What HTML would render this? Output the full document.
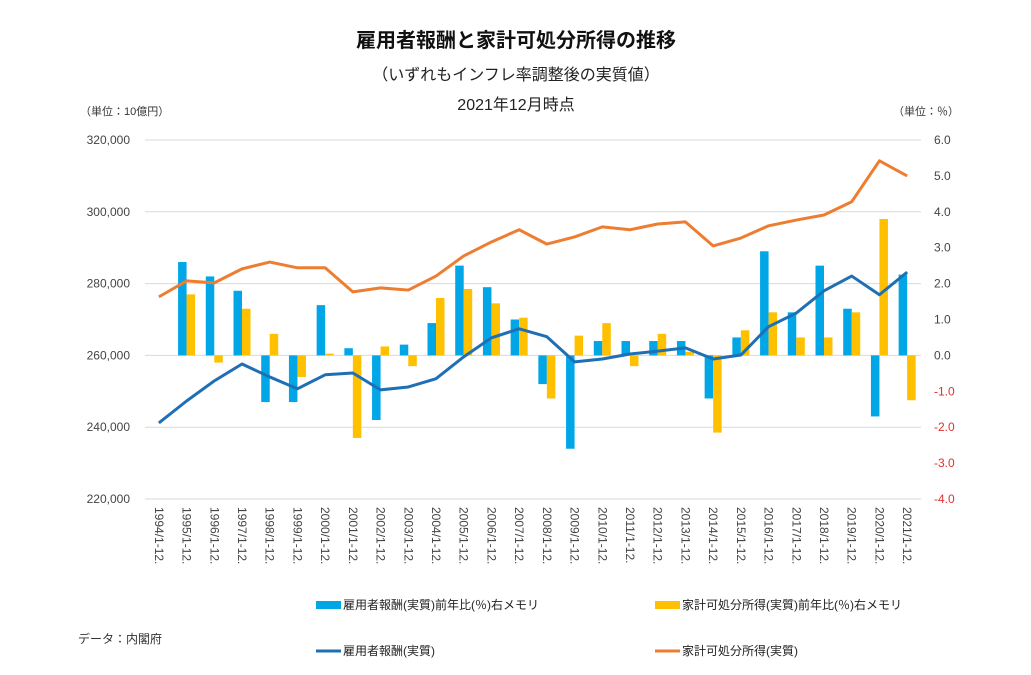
<!DOCTYPE html>
<html><head><meta charset="utf-8">
<style>
body{margin:0;background:#fff;}
svg{display:block;font-family:"Liberation Sans","Noto Sans CJK JP",sans-serif;}
</style></head>
<body>
<svg id="chart" width="1031" height="675" viewBox="0 0 1031 675">
<text x="516" y="47" text-anchor="middle" font-size="20" font-weight="bold" fill="#111">雇用者報酬と家計可処分所得の推移</text>
<text x="516" y="80" text-anchor="middle" font-size="16" fill="#222">（いずれもインフレ率調整後の実質値）</text>
<text x="516" y="110" text-anchor="middle" font-size="16" fill="#222">2021年12月時点</text>
<text x="80" y="115" font-size="11" fill="#333">（単位：10億円）</text>
<text x="893" y="115" font-size="11" fill="#333">（単位：％）</text>
<g id="grid"></g><g id="bars"></g><g id="lines"></g><g id="axes"></g>
<text x="78" y="643" font-size="12" fill="#333">データ：内閣府</text>
<g>
<rect x="316" y="601" width="25" height="8" fill="#00A6E6"/>
<text x="343" y="609" font-size="12" fill="#222">雇用者報酬(実質)前年比(％)右メモリ</text>
<rect x="655" y="601" width="25" height="8" fill="#FFC000"/>
<text x="682" y="609" font-size="12" fill="#222">家計可処分所得(実質)前年比(％)右メモリ</text>
<line x1="316" y1="651" x2="341" y2="651" stroke="#1F6FB5" stroke-width="3"/>
<text x="343" y="655" font-size="12" fill="#222">雇用者報酬(実質)</text>
<line x1="655" y1="651" x2="680" y2="651" stroke="#ED7D31" stroke-width="3"/>
<text x="682" y="655" font-size="12" fill="#222">家計可処分所得(実質)</text>
</g>
</svg>
<script>
const years=[1994,1995,1996,1997,1998,1999,2000,2001,2002,2003,2004,2005,2006,2007,2008,2009,2010,2011,2012,2013,2014,2015,2016,2017,2018,2019,2020,2021];
const employeeYoY=[null,2.6,2.2,1.8,-1.3,-1.3,1.4,0.2,-1.8,0.3,0.9,2.5,1.9,1.0,-0.8,-2.6,0.4,0.4,0.4,0.4,-1.2,0.5,2.9,1.2,2.5,1.3,-1.7,2.25];
const incomeYoY=[null,1.7,-0.2,1.3,0.6,-0.6,0.05,-2.3,0.25,-0.3,1.6,1.85,1.45,1.05,-1.2,0.55,0.9,-0.3,0.6,0.1,-2.15,0.7,1.2,0.5,0.5,1.2,3.8,-1.25];
const employee=[241200,247300,252900,257600,254000,250700,254600,255100,250400,251200,253500,259600,264900,267400,265200,258200,259000,260400,261200,262100,259000,260100,268000,271800,278000,282100,276900,283200];
const income=[276300,280750,280200,284100,286000,284400,284400,277700,278800,278200,282100,287700,291600,295000,291000,293000,295800,295000,296600,297200,290500,292700,296100,297700,299100,302800,314200,310000];
const leftTicks=[220000,240000,260000,280000,300000,320000];
const rightTicks=[-4,-3,-2,-1,0,1,2,3,4,5,6];
const NS="http://www.w3.org/2000/svg";
const L=145,R=921,T=140,B=499;
const yL=v=>B-(v-220000)/100000*(B-T);
const yR=v=>B-(v+4)/10*(B-T);
const step=(R-L)/years.length;
const xC=i=>L+step*(i+0.5);
function mk(tag,attrs,parent){const e=document.createElementNS(NS,tag);for(const k in attrs)e.setAttribute(k,attrs[k]);parent.appendChild(e);return e;}
const grid=document.getElementById('grid'),bars=document.getElementById('bars'),lines=document.getElementById('lines'),axes=document.getElementById('axes');
leftTicks.forEach(v=>{
  const g=mk('line',{x1:L,x2:R,y1:yL(v),y2:yL(v),stroke:'#d9d9d9','stroke-width':1},grid);
  
  
  const t=mk('text',{x:130,y:yL(v)+4,'text-anchor':'end','font-size':12,fill:'#444'},axes);
  t.textContent=v.toLocaleString('en-US');
  
  
});
rightTicks.forEach(v=>{
  const t=mk('text',{x:934,y:yR(v)+4,'font-size':12,fill:v<0?'#E03030':'#444'},axes);
  t.textContent=v.toFixed(1);
  
  
});
const bw=8.5,z=yR(0);
years.forEach((yr,i)=>{
  const lb=mk('text',{transform:`translate(${xC(i)-4},507) rotate(90)`,'font-size':12,fill:'#444'},axes);
  lb.textContent=yr+'/1-12.';
  
  
  if(employeeYoY[i]!=null){
    const y=yR(employeeYoY[i]);
    const b=mk('rect',{x:xC(i)-bw,y:Math.min(y,z),width:bw,height:Math.abs(y-z),fill:'#00A6E6'},bars);
    
    
  }
  if(incomeYoY[i]!=null){
    const y=yR(incomeYoY[i]);
    const b=mk('rect',{x:xC(i),y:Math.min(y,z),width:bw,height:Math.abs(y-z),fill:'#FFC000'},bars);
    
    
  }
});
const p1=mk('polyline',{points:employee.map((v,i)=>xC(i)+','+yL(v)).join(' '),fill:'none',stroke:'#1F6FB5','stroke-width':3,'stroke-linejoin':'round'},lines);


const p2=mk('polyline',{points:income.map((v,i)=>xC(i)+','+yL(v)).join(' '),fill:'none',stroke:'#ED7D31','stroke-width':3,'stroke-linejoin':'round'},lines);


</script>
</body></html>
